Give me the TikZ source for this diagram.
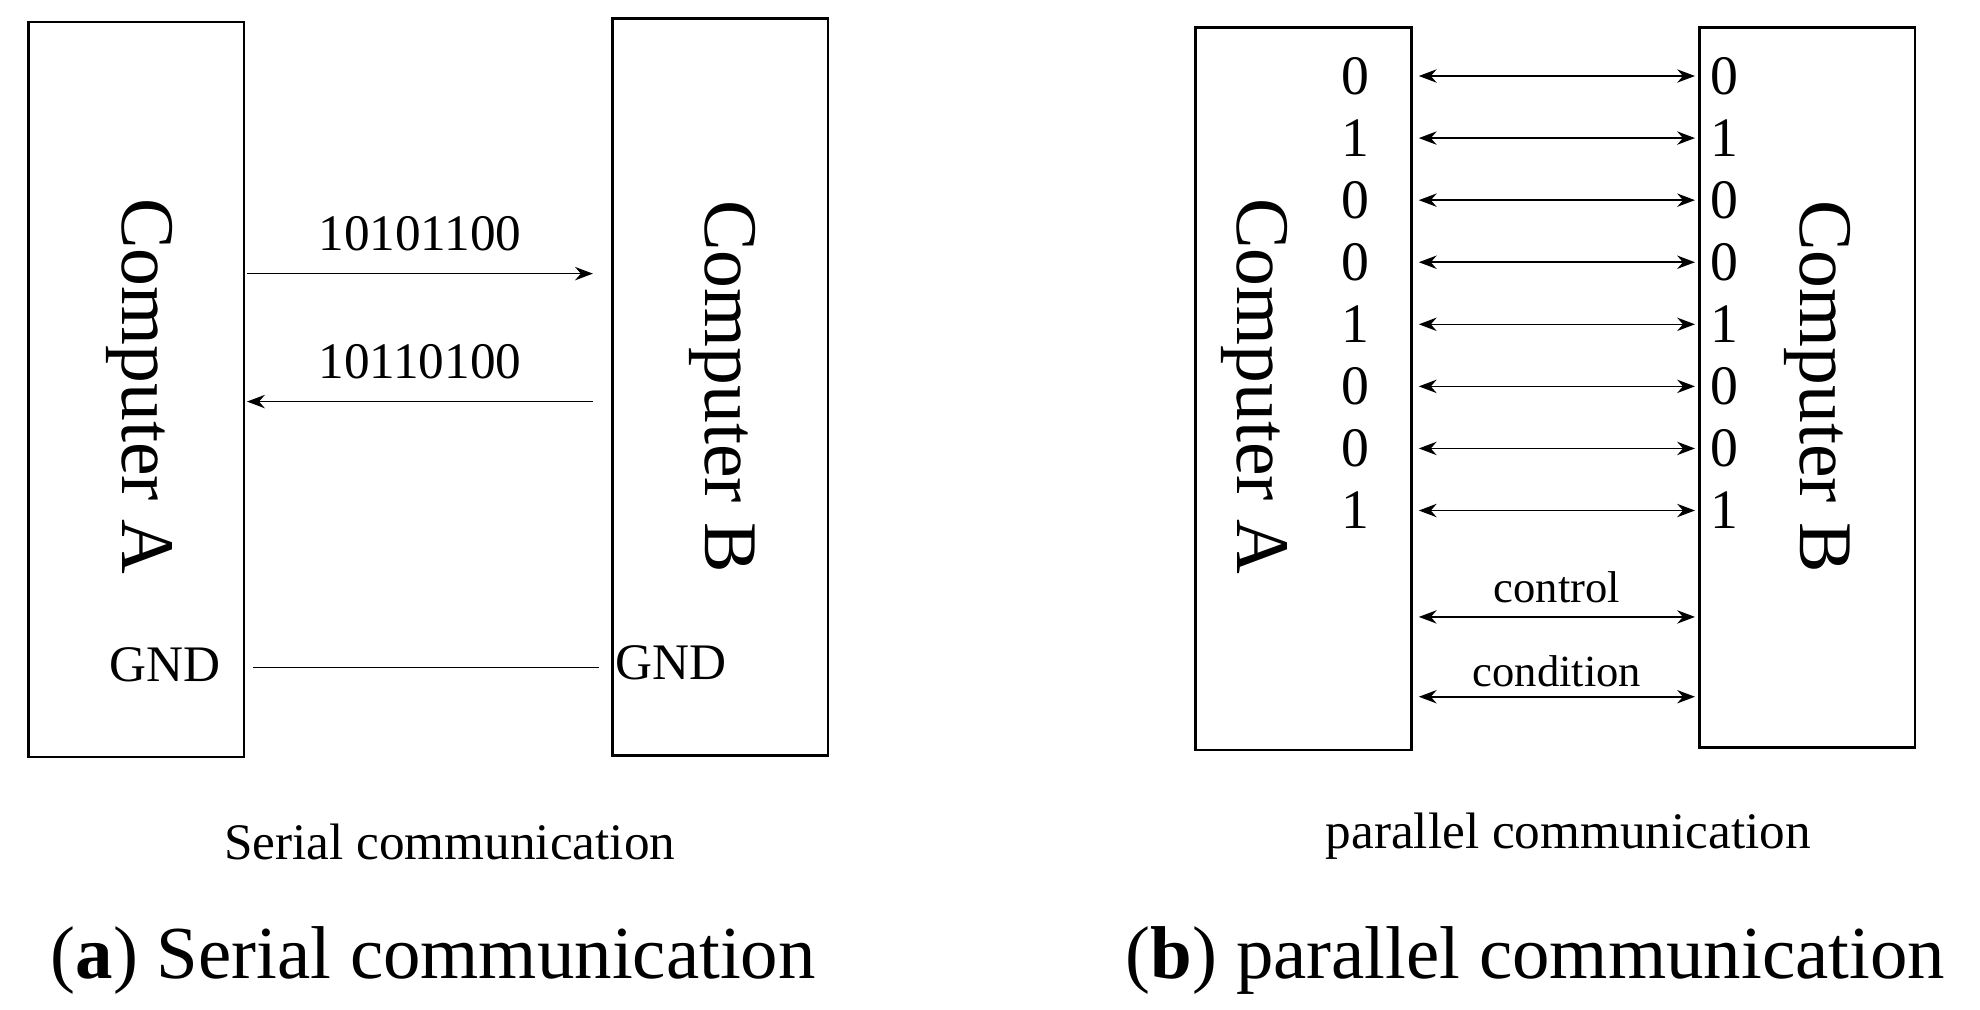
\documentclass[tikz,border=0pt]{standalone}
\usepackage{fontspec}
\setmainfont{Liberation Serif}
\usetikzlibrary{arrows.meta}
\tikzset{
    pc/.style={draw, line width=0.6pt, minimum width=1.7cm, minimum height=5.8cm, inner sep=0pt},
    pcname/.style={rotate=-90, font=\fontsize{17}{17}\selectfont},
    bit/.style={font=\fontsize{12.5}{12.5}\selectfont, inner sep=0pt},
    lbl/.style={font=\fontsize{11.5}{11.5}\selectfont, inner sep=1pt},
    wire/.style={line width=0.35pt, -{Stealth[length=4pt,width=3pt]}},
    bus/.style={line width=0.35pt, {Stealth[length=4pt,width=3pt]}-{Stealth[length=4pt,width=3pt]}},
    caption/.style={font=\fontsize{11.5}{11.5}\selectfont},
    subcap/.style={font=\fontsize{16.8}{16.8}\selectfont}
}
\begin{document}
\begin{tikzpicture}[x=0.01cm, y=-0.01cm]
    \useasboundingbox (0,0) rectangle (1563,797);
    % serial
    \node[pc] (sa) at (107.5,307.5) {};
    \node[pc, minimum height=5.81cm] (sb) at (568.5,305.5) {};
    \node[pcname] (sat) at (110,305) {Computer A};
    \node[pcname] (sbt) at (570,305) {Computer B};
    \coordinate (s1l) at (195,216);
    \coordinate (s1r) at (468,216);
    \coordinate (s2l) at (195,317);
    \coordinate (s2r) at (468,317);
    \draw[wire] (s1l) -- node[lbl, above=4pt] {10101100} (s1r);
    \draw[wire] (s2r) -- node[lbl, above=4pt] {10110100} (s2l);
    \node[lbl] (gnda) at (130,525) {GND};
    \node[lbl] (gndb) at (530,523) {GND};
    \coordinate (g1) at (200,527);
    \coordinate (g2) at (473,527);
    \draw[line width=0.35pt] (g1) -- (g2);
    \node[caption] (scap) at (355,665) {Serial communication};
    \node[subcap] (sub) at (342,758) {(\textbf{a}) Serial communication};
    % parallel
    \node[pc, minimum height=5.7cm] (pa) at (1029,307) {};
    \node[pc, minimum height=5.68cm] (pb) at (1426.5,306) {};
    \node[pcname] (pat) at (990,305) {Computer A};
    \node[pcname] (pbt) at (1435,305) {Computer B};
    \foreach \b [count=\i] in {0,1,0,0,1,0,0,1} {
        \node[bit] (la\i) at (1070,{60+49*(\i-1)}) {\b};
        \node[bit] (lb\i) at (1361,{60+49*(\i-1)}) {\b};
        \draw[bus] (1120,{60+49*(\i-1)}) -- (1338,{60+49*(\i-1)});
    }
    \coordinate (c1) at (1120,487);
    \coordinate (c2) at (1338,487);
    \coordinate (d1) at (1120,550);
    \coordinate (d2) at (1338,550);
    \draw[bus] (c1) -- node[lbl, above=2pt, font=\fontsize{10}{10}\selectfont] {control} (c2);
    \draw[bus] (d1) -- node[lbl, above=1pt, font=\fontsize{10}{10}\selectfont] {condition} (d2);
    \node[caption] (pcap) at (1238,660) {parallel communication};
    \node[subcap] (pub) at (1212,758) {(\textbf{b}) parallel communication};
\end{tikzpicture}
\end{document}
